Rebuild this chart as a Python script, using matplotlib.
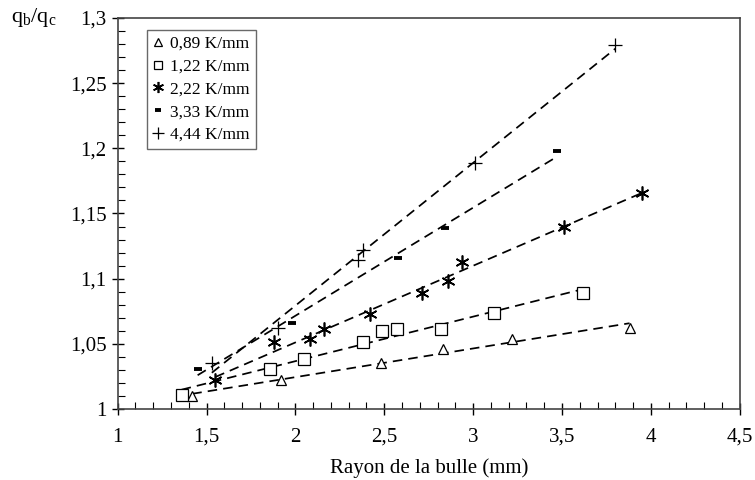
import numpy as np
import matplotlib
matplotlib.use("Agg")
import matplotlib.pyplot as plt
from matplotlib.ticker import MultipleLocator, FuncFormatter

plt.rcParams['font.family'] = ['Liberation Serif', 'DejaVu Serif']

# données
x_089 = [1.42, 1.92, 2.48, 2.83, 3.22, 3.88]
y_089 = [1.010, 1.022, 1.035, 1.046, 1.054, 1.062]

x_122 = [1.36, 1.86, 2.05, 2.38, 2.49, 2.57, 2.82, 3.12, 3.62]
y_122 = [1.011, 1.031, 1.038, 1.051, 1.060, 1.061, 1.061, 1.074, 1.089]

x_222 = [1.55, 1.88, 2.08, 2.16, 2.42, 2.71, 2.86, 2.94, 3.51, 3.95]
y_222 = [1.022, 1.051, 1.054, 1.061, 1.073, 1.089, 1.098, 1.113, 1.140, 1.166]

x_333 = [1.45, 1.98, 2.58, 2.84, 3.47]
y_333 = [1.031, 1.066, 1.116, 1.139, 1.198]

x_444 = [1.53, 1.90, 2.35, 2.38, 3.01, 3.80]
y_444 = [1.035, 1.062, 1.114, 1.122, 1.189, 1.279]

labels = ['0,89 K/mm', '1,22 K/mm', '2,22 K/mm', '3,33 K/mm', '4,44 K/mm']
xticks = [1, 1.5, 2, 2.5, 3, 3.5, 4, 4.5]

series = [
    (x_089, y_089, dict(marker='^', ms=7.5, mfc='white', mec='black', mew=0.9)),
    (x_122, y_122, dict(marker='s', ms=8, mfc='white', mec='black', mew=0.9)),
    (x_222, y_222, dict(marker=(6, 2, 0), ms=10, mec='black', mew=1.2)),
    (x_333, y_333, dict(marker='_', ms=6, mec='black', mew=2.8)),
    (x_444, y_444, dict(marker='+', ms=10, mec='black', mew=0.9)),
]

fig = plt.figure(figsize=(7.55, 4.80), dpi=100)
ax = fig.add_axes([0.1558, 0.148, 0.824, 0.8145])

for (xs, ys, st), lab in zip(series, labels):
    xs = np.array(xs)
    ys = np.array(ys)
    p = np.polyfit(xs, ys, 1)
    xl = np.array([xs.min(), xs.max()])
    ax.plot(xl, np.polyval(p, xl), '--', color='black', lw=1.25, dashes=(5.5, 3.5))
    ax.plot(xs, ys, ls='none', label=lab, **st)

ax.set_xlim(1, 4.5)
ax.set_ylim(1, 1.3)
ax.set_xticks(xticks)
ax.yaxis.set_major_locator(MultipleLocator(0.05))
ax.xaxis.set_minor_locator(MultipleLocator(0.1))
ax.yaxis.set_minor_locator(MultipleLocator(0.01))

fmt = FuncFormatter(lambda v, pos: ('%g' % round(v, 3)).replace('.', ','))
ax.xaxis.set_major_formatter(fmt)
ax.yaxis.set_major_formatter(fmt)

ax.tick_params(which='major', direction='inout', length=9, width=1, labelsize=15)
ax.tick_params(which='minor', direction='in', length=5, width=0.8)
ax.tick_params(axis='x', pad=9)
for s in ax.spines.values():
    s.set_color('#444444')
    s.set_linewidth(1.2)

ax.set_xlabel('Rayon de la bulle (mm)', fontsize=15, labelpad=8)
fig.text(0.015, 0.963, r'q$_\mathregular{b}$/q$_\mathregular{c}$', fontsize=16, va='center', ha='left')

leg = ax.legend(loc='upper left', bbox_to_anchor=(0.047, 0.97), borderaxespad=0,
                fontsize=12.5, frameon=True, fancybox=False, edgecolor='#444444',
                handlelength=0.6, handletextpad=0.4, borderpad=0.35, labelspacing=0.38,
                markerscale=0.8)
leg.get_frame().set_linewidth(1.0)

fig.savefig('out.png', dpi=100)
